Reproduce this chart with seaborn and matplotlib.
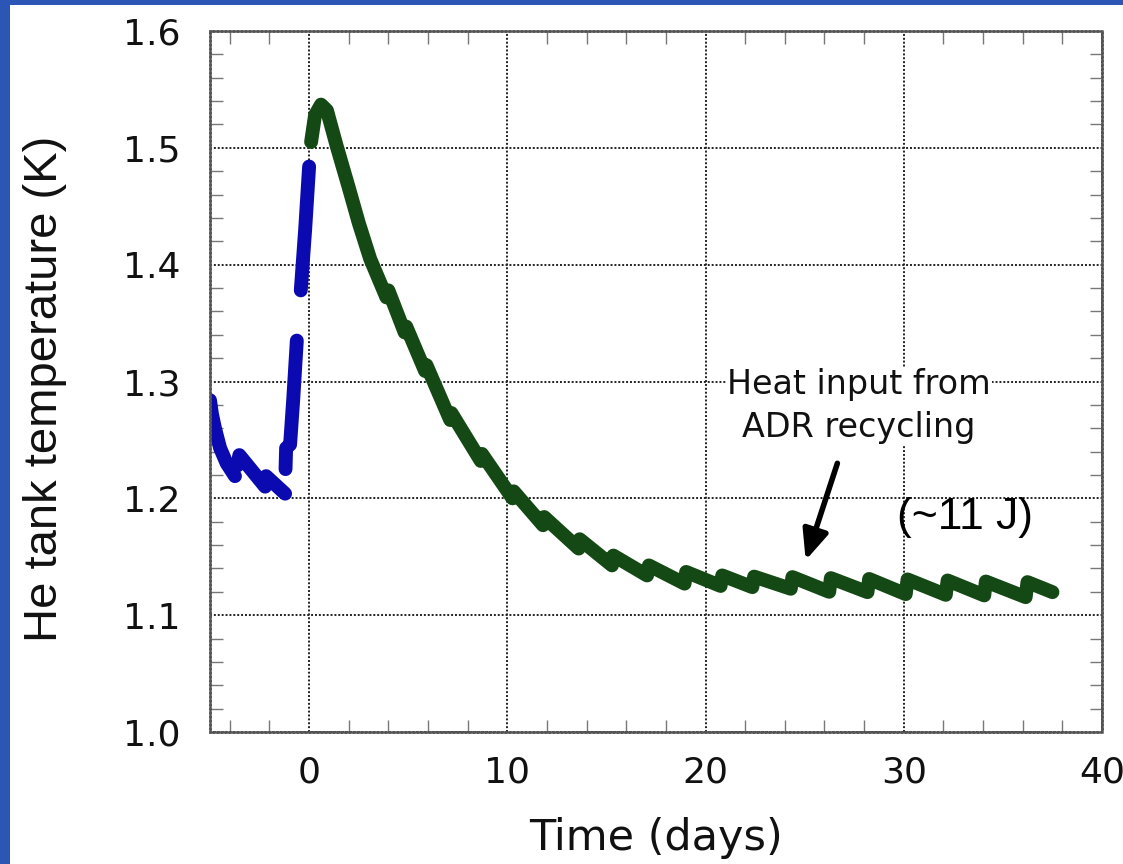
import numpy as np
import pandas as pd
import matplotlib
matplotlib.use("Agg")
import matplotlib.pyplot as plt
from matplotlib.patches import Rectangle
from matplotlib.ticker import MultipleLocator
import seaborn as sns

# ---- data ----
blue_seg1_x = [-5.0, -4.9, -4.75, -4.49, -4.16, -3.74]
blue_seg1_y = [1.284, 1.272, 1.260, 1.243, 1.230, 1.219]
blue_seg2_x = [-3.62, -3.52, -2.22]
blue_seg2_y = [1.228, 1.237, 1.210]
blue_seg3_x = [-2.19, -2.17, -1.21]
blue_seg3_y = [1.214, 1.219, 1.204]
blue_seg4_x = [-1.19, -1.16, -0.96, -0.80, -0.62]
blue_seg4_y = [1.225, 1.243, 1.246, 1.285, 1.335]
blue_seg5_x = [-0.42, -0.20, 0.0]
blue_seg5_y = [1.378, 1.430, 1.484]

green_x = [0.1, 0.3, 0.6, 0.9, 1.4, 2.0, 2.5, 3.08, 3.9, 4.0, 4.82, 4.9, 5.85, 5.92,
           7.12, 7.18, 8.66, 8.72, 10.26, 10.32, 11.8, 11.86, 13.6, 13.65, 15.28, 15.35,
           17.05, 17.14, 18.94, 19.02, 20.76, 20.84, 22.36, 22.45, 24.3, 24.38,
           26.24, 26.32, 28.17, 28.25, 30.1, 30.19, 32.12, 32.21, 34.06, 34.14,
           36.15, 36.24, 37.5]
green_y = [1.505, 1.528, 1.537, 1.532, 1.501, 1.466, 1.436, 1.405, 1.372, 1.378, 1.342, 1.347,
           1.309, 1.314, 1.267, 1.273, 1.232, 1.238, 1.200, 1.206, 1.177, 1.184, 1.157, 1.165,
           1.1426, 1.151, 1.134, 1.1426, 1.127, 1.137, 1.125, 1.134, 1.124, 1.133, 1.1226, 1.1326,
           1.120, 1.1317, 1.1197, 1.131, 1.118, 1.1306, 1.1174, 1.1297, 1.1169, 1.1288,
           1.1154, 1.1283, 1.1197]

x_ticks = [0, 10, 20, 30, 40]
y_ticks = [1.0, 1.1, 1.2, 1.3, 1.4, 1.5, 1.6]

rows = []
for seg, (xs, ys) in enumerate([(blue_seg1_x, blue_seg1_y), (blue_seg2_x, blue_seg2_y),
                                (blue_seg3_x, blue_seg3_y), (blue_seg4_x, blue_seg4_y),
                                (blue_seg5_x, blue_seg5_y)]):
    for a, b in zip(xs, ys):
        rows.append(dict(t=a, T=b, seg=f"b{seg}", series="before"))
for a, b in zip(green_x, green_y):
    rows.append(dict(t=a, T=b, seg="g", series="after"))
df = pd.DataFrame(rows)

sns.set_theme(style="white")
plt.rcParams['font.family'] = ['DejaVu Sans']

fig = plt.figure(figsize=(11.23, 8.64), dpi=100)
fig.patch.set_facecolor("white")
# slide border strips
fig.add_artist(Rectangle((0, 0), 10 / 1123, 1, transform=fig.transFigure,
                         facecolor="#2b56b6", edgecolor="none", zorder=0))
fig.add_artist(Rectangle((0, 1 - 5 / 864), 1, 5 / 864, transform=fig.transFigure,
                         facecolor="#2b56b6", edgecolor="none", zorder=0))

ax = fig.add_axes([210 / 1123, 1 - 732 / 864, (1102 - 210) / 1123, (732 - 31) / 864])
ax.set_facecolor("white")

sns.lineplot(data=df, x="t", y="T", hue="series", units="seg", estimator=None,
             palette={"before": "#0a0ab0", "after": "#144814"}, linewidth=10,
             legend=False, ax=ax, sort=False)
for ln in ax.get_lines():
    ln.set_solid_capstyle("round")
    ln.set_solid_joinstyle("round")

ax.set_xlim(-5, 40)
ax.set_ylim(1.0, 1.6)
ax.set_xticks(x_ticks)
ax.set_yticks(y_ticks)
ax.set_yticklabels([f"{v:.1f}" for v in y_ticks])
ax.xaxis.set_minor_locator(MultipleLocator(2))
ax.yaxis.set_minor_locator(MultipleLocator(0.02))
ax.tick_params(which="major", length=0, labelsize=26, colors="#111111", pad=21)
ax.tick_params(axis="x", which="major", pad=17)
ax.tick_params(which="minor", direction="in", length=9, width=1.0, color="#777777",
               top=True, right=True, bottom=True, left=True)
ax.grid(True, which="major", linestyle=(0, (1, 1)), linewidth=1.4, color="#222222")
for s in ax.spines.values():
    s.set_visible(True)
    s.set_color("#555555")
    s.set_linewidth(1.8)
    s.set_linestyle((0, (1, 0.6)))

ax.set_xlabel("Time (days)", fontsize=31, color="#111111", labelpad=20)
ax.set_ylabel("He tank temperature (K)", fontsize=34, color="#111111",
              family=["Liberation Sans", "DejaVu Sans"])
ax.yaxis.set_label_coords(-0.160, 0.49)

ax.text(27.75, 1.279, "Heat input from\nADR recycling", ha="center", va="center",
        fontsize=24, linespacing=1.38, color="#111111",
        bbox=dict(facecolor="white", edgecolor="none", pad=1), zorder=5)
ax.annotate("", xy=(25.05, 1.147), xytext=(26.65, 1.230),
            arrowprops=dict(arrowstyle="-|>,head_length=1.5,head_width=0.65",
                            color="black", lw=4, shrinkA=0, shrinkB=0), zorder=6)
ax.text(33.1, 1.184, "(~11 J)", ha="center", va="center", fontsize=32,
        family=["Liberation Sans", "DejaVu Sans"], color="black", zorder=5)

fig.savefig("out.png", dpi=100)
